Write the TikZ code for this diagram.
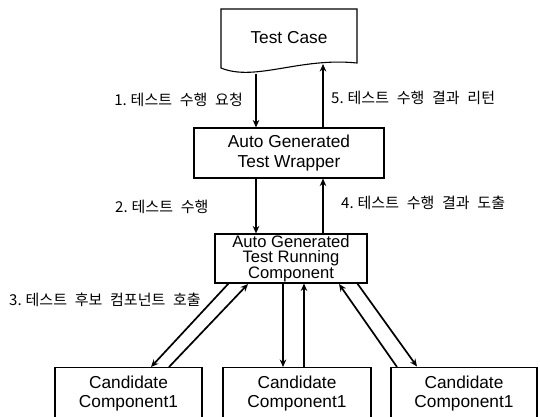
\documentclass[tikz,border=0pt]{standalone}
\usepackage{fontspec}
\setmainfont{Liberation Sans}
\newfontfamily\kr[WordSpace=2.3]{Noto Sans CJK KR}
\usetikzlibrary{arrows.meta}
% narrow gap after a step number
\newcommand{\stepgap}{\hspace{4pt}}
\begin{document}
\begin{tikzpicture}[x=1pt,y=-1pt,
  boxstyle/.style={draw=black,line width=1.1pt,align=center,inner sep=0pt,
    font=\fontsize{17.3}{20}\selectfont},
  flow/.style={line width=1.7pt,-{Stealth[length=7.5pt,width=6.5pt]}},
  lbl/.style={font=\kr\fontsize{15}{17}\selectfont,inner sep=0pt,anchor=west}]
\useasboundingbox (0,0) rectangle (540,416);
\fill[white] (0,0) rectangle (540,416);

% document shape for the test case
\draw[line width=1.1pt] (221,68) -- (221,9) -- (357,9) -- (357,63)
  .. controls (300,57) and (255,82) .. (221,68) -- cycle;
\node[font=\fontsize{17.3}{20}\selectfont] (tc) at (289,38) {Test Case};
\coordinate (tcOut) at (256,73.5);
\coordinate (tcIn) at (323,64);

% boxes
\node[boxstyle,minimum width=190pt,minimum height=50pt] (wrap) at (289,153)
  {Auto Generated\\Test Wrapper};
\node[boxstyle,minimum width=152pt,minimum height=49pt,
  font=\fontsize{16.6}{15.4}\selectfont] (run) at (291,258.5)
  {Auto Generated\\Test Running\\Component};
\begin{scope}
\clip (0,0) rectangle (540,416);
\node[boxstyle,minimum width=147pt,minimum height=52pt,anchor=north,
  font=\fontsize{17.3}{19}\selectfont] (c1) at (128.5,367) {Candidate\\Component1};
\node[boxstyle,minimum width=148pt,minimum height=52pt,anchor=north,
  font=\fontsize{17.3}{19}\selectfont] (c2) at (297,367) {Candidate\\Component1};
\node[boxstyle,minimum width=146pt,minimum height=52pt,anchor=north,
  font=\fontsize{17.3}{19}\selectfont] (c3) at (464,367) {Candidate\\Component1};
\end{scope}

% test case <-> wrapper
\draw[flow] (tcOut) -- (wrap.north -| tcOut);
\draw[flow] (wrap.north -| tcIn) -- (tcIn);
% wrapper <-> running component
\draw[flow] (wrap.south -| tcOut) -- (run.north -| tcOut);
\draw[flow] (run.north -| tcIn) -- (wrap.south -| tcIn);

% running component <-> candidates
\coordinate (r1) at (229,283); \coordinate (r2) at (248,284);
\coordinate (r3) at (283,283); \coordinate (r4) at (304,283.5);
\coordinate (r5) at (339,284); \coordinate (r6) at (357,283);
\coordinate (k1) at (151,367); \coordinate (k2) at (169,367);
\coordinate (k3) at (283,367); \coordinate (k4) at (304,367);
\coordinate (k5) at (397,367); \coordinate (k6) at (417,366.5);
\draw[flow] (r1) -- (k1);
\draw[flow] (k2) -- (r2);
\draw[flow] (r3) -- (k3);
\draw[flow] (k4) -- (r4);
\draw[flow] (k5) -- (r5);
\draw[flow] (r6) -- (k6);

% step labels
\node[lbl,anchor=east] (l1) at (243,100) {1.\stepgap 테스트 수행 요청};
\node[lbl] (l5) at (331,98) {5.\stepgap 테스트 수행 결과 리턴};
\node[lbl] (l2) at (115,207) {2.\stepgap 테스트 수행};
\node[lbl] (l4) at (341,203) {4.\stepgap 테스트 수행 결과 도출};
\node[lbl] (l3) at (9,300) {3.\stepgap 테스트 후보 컴포넌트 호출};
\end{tikzpicture}
\end{document}
